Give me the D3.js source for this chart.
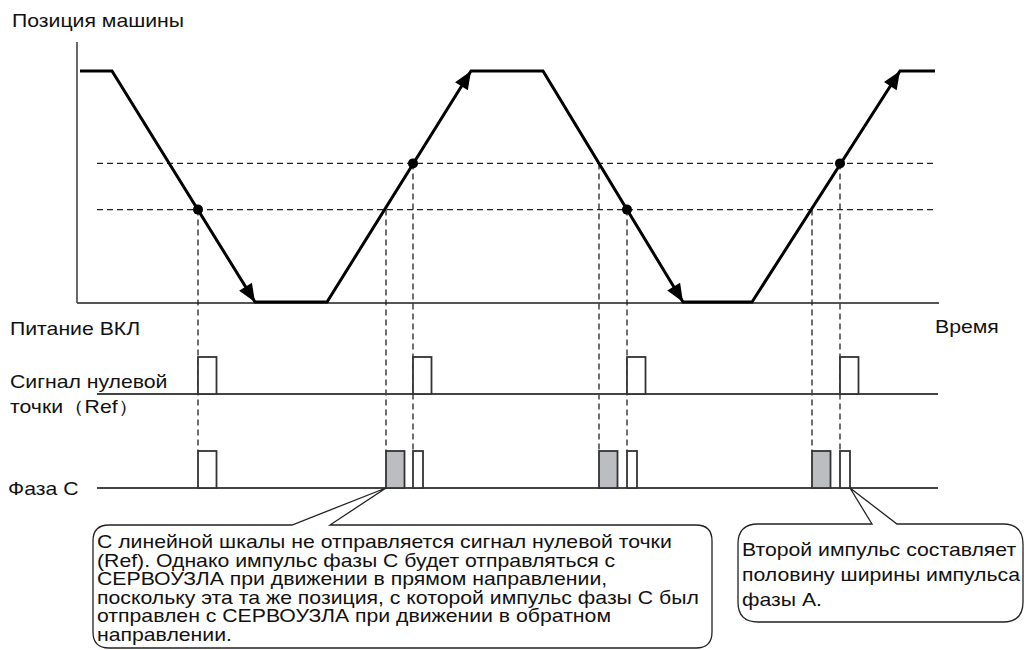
<!DOCTYPE html>
<html>
<head>
<meta charset="utf-8">
<title>Позиция машины</title>
<style>
    body {
        margin: 0;
        background: #fff;
    }
    svg text {
        font-family: "Liberation Sans", Arial, sans-serif;
        font-size: 18px;
        fill: #111;
    }
</style>
</head>
<body>
<script src="https://cdn.jsdelivr.net/npm/d3@7/dist/d3.min.js"></script>
<script>
// machine position profile (time units, position units)
var times = [3, 35, 178, 250, 394, 466, 606, 675, 823, 858];
var positions = [10, 10, 0, 0, 10, 10, 0, 0, 10, 10];
// dashed reference levels
var levels = [6, 4];
// crossing points marked with dots
var dotTimes = [121, 336, 550, 763];
var dotLevels = [4, 6, 4, 6];
// vertical guides from a level down to the phase C row
var guideTimes = [121, 309, 336, 522, 550, 735, 763];
var guideLevels = [4, 4, 6, 6, 4, 4, 6];
// pulses
var refPulses = [121, 336, 550, 763];
var phaseCFull = [121];
var phaseCGray = [309, 522, 735];
var phaseCHalf = [336, 550, 763];
var pulseWidth = 18.5;
var halfWidth = 10;

var labels = {
    yTitle: "Позиция машины",
    power: "Питание ВКЛ",
    time: "Время",
    ref1: "Сигнал нулевой",
    ref2: "точки（Ref）",
    phaseC: "Фаза C"
};
var note1 = [
    "С линейной шкалы не отправляется сигнал нулевой точки",
    "(Ref). Однако импульс фазы C будет отправляться с",
    "СЕРВОУЗЛА при движении в прямом направлении,",
    "поскольку эта та же позиция, с которой импульс фазы C был",
    "отправлен с СЕРВОУЗЛА при движении в обратном",
    "направлении."
];
var note2 = [
    "Второй импульс составляет",
    "половину ширины импульса",
    "фазы А."
];

var width = 1026, height = 650;
var stretch = 1.18; // the original lettering is wider than Arial
var svg = d3.select("body").append("svg")
    .attr("width", width)
    .attr("height", height);

var x = d3.scaleLinear().domain([0, 862]).range([77, 939]);
var y = d3.scaleLinear().domain([0, 10]).range([302, 71]);
var refBase = 394, cBase = 488, pulseH = 37;

function label(tx, ty, str) {
    return svg.append("text")
        .attr("transform", "translate(" + tx + "," + ty + ") scale(" + stretch + ",1)")
        .text(str);
}

// axes
svg.append("line")
    .attr("x1", x(0)).attr("x2", x(0))
    .attr("y1", 42).attr("y2", 303)
    .attr("stroke", "#444").attr("stroke-width", 1.6);
svg.append("line")
    .attr("x1", x(0)).attr("x2", x(862))
    .attr("y1", 303).attr("y2", 303)
    .attr("stroke", "#555").attr("stroke-width", 2);

// dashed levels
svg.selectAll(".level")
    .data(levels)
    .enter().append("line")
    .attr("x1", x(20)).attr("x2", x(860))
    .attr("y1", function (d) { return y(d); })
    .attr("y2", function (d) { return y(d); })
    .attr("stroke", "#222").attr("stroke-width", 1.3)
    .attr("stroke-dasharray", "6,4");

// vertical guides
svg.selectAll(".guide")
    .data(guideTimes)
    .enter().append("line")
    .attr("x1", function (d) { return x(d); })
    .attr("x2", function (d) { return x(d); })
    .attr("y1", function (d, i) { return y(guideLevels[i]); })
    .attr("y2", cBase - pulseH)
    .attr("stroke", "#222").attr("stroke-width", 1.3)
    .attr("stroke-dasharray", "6,4");

// signal baselines
[refBase, cBase].forEach(function (b) {
    svg.append("line")
        .attr("x1", x(20)).attr("x2", x(861))
        .attr("y1", b).attr("y2", b)
        .attr("stroke", "#444").attr("stroke-width", 1.8);
});

function pulses(data, base, w, fill) {
    svg.selectAll(null)
        .data(data)
        .enter().append("rect")
        .attr("x", function (d) { return x(d); })
        .attr("y", base - pulseH)
        .attr("width", x(w) - x(0))
        .attr("height", pulseH)
        .attr("fill", fill)
        .attr("stroke", "#333")
        .attr("stroke-width", 1.8);
}
pulses(refPulses, refBase, pulseWidth, "#fff");
pulses(phaseCFull, cBase, pulseWidth, "#fff");
pulses(phaseCGray, cBase, pulseWidth, "#bcbdc0");
pulses(phaseCHalf, cBase, halfWidth, "#fff");

// position line
var pts = times.map(function (t, i) { return [x(t), y(positions[i])]; });
svg.append("path")
    .attr("d", d3.line()(pts))
    .attr("fill", "none")
    .attr("stroke", "#000")
    .attr("stroke-width", 3)
    .attr("stroke-linejoin", "miter");

// arrowheads at the end of each slope
[2, 4, 6, 8].forEach(function (i) {
    var p0 = pts[i - 1], p1 = pts[i];
    var a = Math.atan2(p1[1] - p0[1], p1[0] - p0[0]) * 180 / Math.PI;
    svg.append("path")
        .attr("d", "M0,0 L-18,-7.5 L-18,7.5 Z")
        .attr("transform", "translate(" + p1[0] + "," + p1[1] + ") rotate(" + a + ")")
        .attr("fill", "#000");
});

// dots
svg.selectAll(".dot")
    .data(dotTimes)
    .enter().append("circle")
    .attr("cx", function (d) { return x(d); })
    .attr("cy", function (d, i) { return y(dotLevels[i]); })
    .attr("r", 5)
    .attr("fill", "#000");

// labels
label(12, 27, labels.yTitle);
label(10, 335, labels.power);
label(935, 333, labels.time);
label(10, 388, labels.ref1);
label(10, 413, labels.ref2);
label(8, 495, labels.phaseC);

// callouts
function callout(x0, y0, x1, y1, r, a, b, tx, ty) {
    var p = d3.path();
    p.moveTo(x0 + r, y0);
    p.lineTo(a, y0);
    p.lineTo(tx, ty);
    p.lineTo(b, y0);
    p.lineTo(x1 - r, y0);
    p.quadraticCurveTo(x1, y0, x1, y0 + r);
    p.lineTo(x1, y1 - r);
    p.quadraticCurveTo(x1, y1, x1 - r, y1);
    p.lineTo(x0 + r, y1);
    p.quadraticCurveTo(x0, y1, x0, y1 - r);
    p.lineTo(x0, y0 + r);
    p.quadraticCurveTo(x0, y0, x0 + r, y0);
    p.closePath();
    svg.append("path")
        .attr("d", p.toString())
        .attr("fill", "#fff")
        .attr("stroke", "#222")
        .attr("stroke-width", 1.3);
}
callout(93, 525, 712, 648, 16, 292, 330, x(phaseCGray[0]), cBase);
callout(738, 524, 1023, 622, 20, 872, 897, x(phaseCHalf[2] + halfWidth), cBase);

note1.forEach(function (s, i) { label(97, 548 + i * 18.5, s); });
note2.forEach(function (s, i) { label(742, 556 + i * 25, s); });
</script>
</body>
</html>
